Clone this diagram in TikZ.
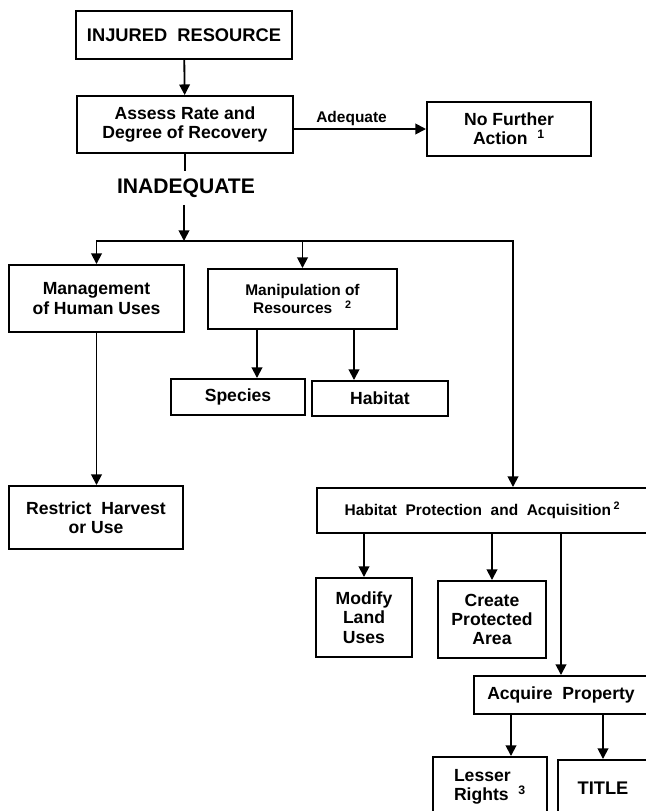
\documentclass[tikz,border=0pt]{standalone}
\usepackage{fontspec}
\setmainfont{Liberation Sans}
\usetikzlibrary{arrows.meta}

\begin{document}
\begin{tikzpicture}[
  x=0.025cm, y=-0.025cm,
  box/.style={draw, line width=1.4pt, inner sep=1pt, align=center, font=\bfseries\fontsize{12.5}{13.7}\selectfont},
  lbl/.style={font=\bfseries\fontsize{11}{13}\selectfont, inner sep=2pt},
  line/.style={line width=1.3pt},
  arr/.style={line, -{Triangle[length=7.5pt, width=7.5pt]}}
]
  \useasboundingbox (0,0) rectangle (646,811);
  \clip (0,0) rectangle (646,811);

  % top of the chart
  \node[box, minimum width=5.4cm, minimum height=1.2cm] (injured) at (184,35) {\fontsize{13}{15}\selectfont INJURED\ \ RESOURCE};
  \node[box, minimum width=5.4cm, minimum height=1.425cm] (assess) at (185,124.5) {Assess Rate and\\Degree of Recovery};
  \node[box, minimum width=4.1cm, minimum height=1.35cm] (nofurther) at (509,129) {No Further\\Action\ \ \textsuperscript{1}};
  \node[font=\bfseries\fontsize{15}{17}\selectfont, inner sep=5pt] (inadeq) at (186,188) {INADEQUATE};
  \coordinate (split) at (184,241);
  \coordinate (bend) at (513,241);

  % three branches
  \node[box, minimum width=4.375cm, minimum height=1.675cm] (mgmt) at (96.5,298.5) {Management\\of Human Uses};
  \node[box, minimum width=4.725cm, minimum height=1.5cm, font=\bfseries\fontsize{11}{13}\selectfont] (manip) at (302.5,299) {Manipulation of\\Resources\ \ \ \textsuperscript{2}};
  \node[box, minimum width=3.35cm, minimum height=0.9cm] (species) at (238,397) {Species};
  \node[box, minimum width=3.4cm, minimum height=0.875cm] (habitat) at (380,398.5) {Habitat};
  \node[box, minimum width=4.35cm, minimum height=1.575cm] (restrict) at (96,517.5) {Restrict\ \ Harvest\\or Use};
  \node[box, minimum width=8.275cm, minimum height=1.125cm, font=\bfseries\fontsize{11}{13}\selectfont] (protect) at (482.5,510.5) {Habitat\ \ Protection\ \ and\ \ Acquisition\,\textsuperscript{2}};

  % protection and acquisition
  \node[box, minimum width=2.4cm, minimum height=1.975cm] (modify) at (364,617.5) {Modify\\Land\\Uses};
  \node[box, minimum width=2.7cm, minimum height=1.925cm] (create) at (492,619.5) {Create\\Protected\\Area};
  \node[box, minimum width=4.35cm, minimum height=0.95cm] (acquire) at (561,695) {Acquire\ \ Property};
  \node[box, minimum width=2.85cm, minimum height=1.5cm, align=left] (lesser) at (490,787) {Lesser\\Rights\ \ \textsuperscript{3}};
  \node[box, minimum width=2.25cm, minimum height=1.4cm, font=\bfseries\fontsize{13}{15}\selectfont] (title) at (603,788) {TITLE};

  \draw[arr] (injured) -- (assess);
  \draw[arr] (assess.east |- nofurther) -- (nofurther) node[lbl, midway, above, xshift=-6pt] {Adequate};
  \draw[line] (assess) -- (assess |- inadeq.north);
  \draw[arr] (inadeq.south -| split) -- (split);
  \draw[arr] (split) -| (mgmt);
  \draw[arr] (split) -| (manip);
  \draw[arr] (split) -- (bend) -- (bend |- protect.north);
  \draw[arr] (mgmt) -- (mgmt |- restrict.north);
  \draw[arr] (257,0 |- manip.south) -- (257,0 |- species.north);
  \draw[arr] (354,0 |- manip.south) -- (354,0 |- habitat.north);
  \draw[arr] (protect.south -| modify) -- (modify);
  \draw[arr] (protect.south -| create) -- (create);
  \draw[arr] (protect.south -| acquire) -- (acquire);
  \draw[arr] (511,0 |- acquire.south) -- (511,0 |- lesser.north);
  \draw[arr] (acquire.south -| title) -- (title);
\end{tikzpicture}
\end{document}
